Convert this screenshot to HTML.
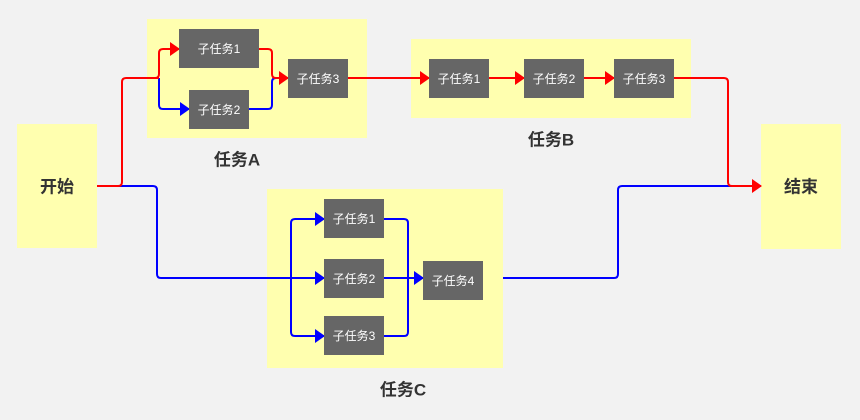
<!DOCTYPE html>
<html><head><meta charset="utf-8"><style>
html,body{margin:0;padding:0;background:#f2f2f2;}
svg{display:block;font-family:"Liberation Sans","Noto Sans CJK SC",sans-serif;}
.sub{fill:#666;}
.st{fill:#fff;font-size:12px;text-anchor:middle;dominant-baseline:central;}
.lb{fill:#333;font-size:17px;font-weight:bold;text-anchor:middle;dominant-baseline:central;}
.r{fill:none;stroke:#ff0000;stroke-width:2;stroke-linejoin:round;}
.b{fill:none;stroke:#0000ff;stroke-width:2;stroke-linejoin:round;}
</style></head><body>
<svg width="860" height="420" viewBox="0 0 860 420">
<defs>
<marker id="ar" markerWidth="10" markerHeight="14" refX="9" refY="7" orient="auto" markerUnits="userSpaceOnUse"><path d="M0,0L10,7L0,14z" fill="#ff0000"/></marker>
<marker id="ab" markerWidth="10" markerHeight="14" refX="9" refY="7" orient="auto" markerUnits="userSpaceOnUse"><path d="M0,0L10,7L0,14z" fill="#0000ff"/></marker>
</defs>
<rect x="0" y="0" width="860" height="420" fill="#f2f2f2"/>
<rect x="17" y="124" width="80" height="124" fill="#ffffaf"/>
<rect x="761" y="124" width="80" height="125" fill="#ffffaf"/>
<rect x="147" y="19" width="220" height="119" fill="#ffffaf"/>
<rect x="411" y="39" width="280" height="79" fill="#ffffaf"/>
<rect x="267" y="189" width="236" height="179" fill="#ffffaf"/>
<text x="57" y="187" class="lb" font-size="20">开始</text>
<text x="801" y="187" class="lb" font-size="20">结束</text>
<text x="237" y="160" class="lb">任务A</text>
<text x="551" y="140" class="lb">任务B</text>
<text x="403" y="390" class="lb">任务C</text>

<!-- blue C -->
<path class="b" d="M97,186 H153 Q157,186 157,190 V274 Q157,278 161,278 H324" marker-end="url(#ab)"/>
<path class="b" d="M291,278 V223 Q291,219 295,219 H324" marker-end="url(#ab)"/>
<path class="b" d="M291,278 V332 Q291,336 295,336 H324" marker-end="url(#ab)"/>
<path class="b" d="M384,219 H404 Q408,219 408,223 V332 Q408,336 404,336 H384"/>
<path class="b" d="M384,278 H423" marker-end="url(#ab)"/>
<path class="b" d="M503,278 H614 Q618,278 618,274 V190 Q618,186 622,186 H740"/>
<!-- blue A -->
<path class="b" d="M159,78 V105 Q159,109 163,109 H189" marker-end="url(#ab)"/>
<path class="b" d="M249,109 H268 Q272,109 272,105 V82 Q272,78 276,78"/>

<!-- red path -->
<path class="r" d="M97,186 H118 Q122,186 122,182 V82 Q122,78 126,78 H159"/>
<path class="r" d="M155,78 Q159,78 159,74 V53 Q159,49 163,49 H179" marker-end="url(#ar)"/>
<path class="r" d="M259,49 H268 Q272,49 272,53 V74 Q272,78 276,78 H288" marker-end="url(#ar)"/>
<path class="r" d="M348,78 H429" marker-end="url(#ar)"/>
<path class="r" d="M489,78 H524" marker-end="url(#ar)"/>
<path class="r" d="M584,78 H614" marker-end="url(#ar)"/>
<path class="r" d="M674,78 H724 Q728,78 728,82 V182 Q728,186 732,186 H761" marker-end="url(#ar)"/>

<rect x="179" y="29" width="80" height="39" class="sub"/><text x="219" y="49" class="st">子任务1</text>
<rect x="189" y="90" width="60" height="39" class="sub"/><text x="219" y="110" class="st">子任务2</text>
<rect x="288" y="59" width="60" height="39" class="sub"/><text x="318" y="79" class="st">子任务3</text>
<rect x="429" y="59" width="60" height="39" class="sub"/><text x="459" y="79" class="st">子任务1</text>
<rect x="524" y="59" width="60" height="39" class="sub"/><text x="554" y="79" class="st">子任务2</text>
<rect x="614" y="59" width="60" height="39" class="sub"/><text x="644" y="79" class="st">子任务3</text>
<rect x="324" y="199" width="60" height="39" class="sub"/><text x="354" y="219" class="st">子任务1</text>
<rect x="324" y="259" width="60" height="39" class="sub"/><text x="354" y="279" class="st">子任务2</text>
<rect x="324" y="316" width="60" height="39" class="sub"/><text x="354" y="336" class="st">子任务3</text>
<rect x="423" y="261" width="60" height="39" class="sub"/><text x="453" y="281" class="st">子任务4</text>
</svg>
</body></html>
